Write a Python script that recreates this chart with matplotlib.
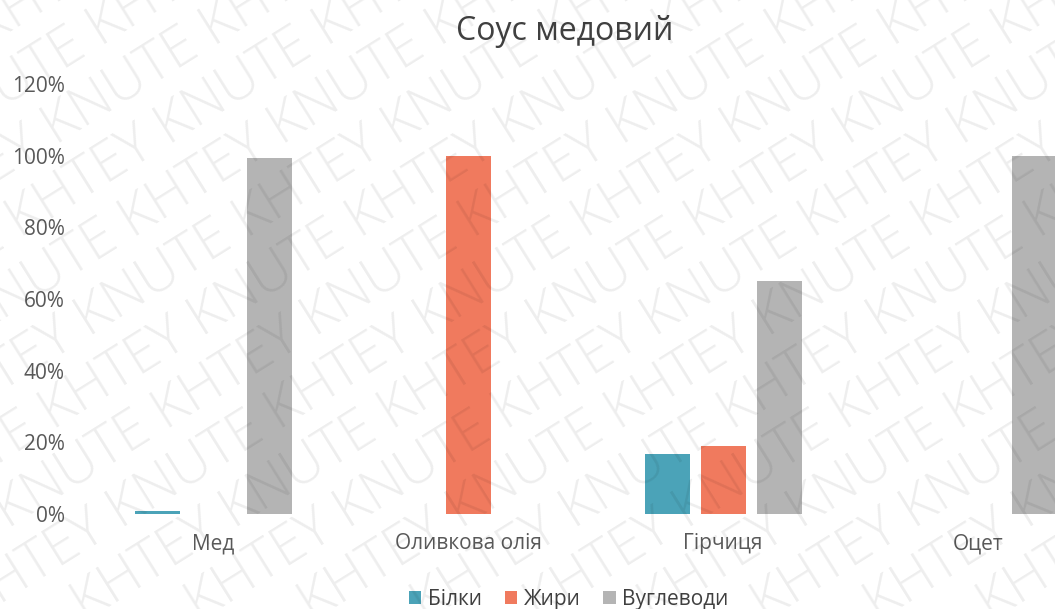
import numpy as np
import matplotlib
matplotlib.use("Agg")
from matplotlib import pyplot as plt
from matplotlib.ticker import PercentFormatter

# данные
categories = ["Мед", "Оливкова олія", "Гірчиця", "Оцет"]
series = ["Білки", "Жири", "Вуглеводи"]
bilky = [0.8, 0, 16.7, 0]
zhyry = [0, 100, 18.9, 0]
vuhlevody = [99.4, 0, 64.9, 100]
colors = ["#4BA3B8", "#F07A5E", "#B4B4B4"]
yticks = [0, 20, 40, 60, 80, 100, 120]

plt.rcParams['font.family'] = ['Open Sans', 'DejaVu Sans']

W, H = 1055, 609
fig = plt.figure(figsize=(W / 100, H / 100), dpi=100)

# область графика выходит за правый край (как в исходнике)
ax = fig.add_axes([85.5 / W, (H - 514) / H, 1020 / W, 430 / H])
x = np.arange(len(categories))
bw = 45 / 255
step = 56 / 255
for k, (vals, name) in enumerate(zip([bilky, zhyry, vuhlevody], series)):
  ax.bar(x + (k - 1) * step, vals, width=bw, color=colors[k], label=name)

ax.set_xlim(-0.5, 3.5)
ax.set_ylim(0, 120)
ax.set_yticks(yticks)
ax.yaxis.set_major_formatter(PercentFormatter(decimals=0))
ax.set_xticks(x)
ax.set_xticklabels(categories)
ax.tick_params(length=0, labelsize=15, colors="#595959")
ax.tick_params(axis="x", pad=14)
ax.tick_params(axis="y", pad=15)
for s in ax.spines.values():
  s.set_visible(False)

fig.text(0.535, 0.948, "Соус медовий", ha="center", va="center",
         fontsize=23, color="#404040")

handles, labels = ax.get_legend_handles_labels()
fig.legend(handles, labels, loc="center", bbox_to_anchor=(0.539, 0.016),
           ncol=3, frameon=False, fontsize=15, labelcolor="#404040",
           handlelength=0.6, handleheight=0.6, handletextpad=0.3,
           columnspacing=1.1)

# водяной знак
ang = 32
sp = 60 / np.sin(np.radians(ang))
for x0 in np.arange(-1500, W, sp):
  fig.text(x0 / W, -0.02, "KHTEY KNUTE " * 7, rotation=ang,
           rotation_mode="anchor", fontsize=40, fontweight="light",
           color="#000000", alpha=0.07, ha="left", va="baseline",
           zorder=10)

fig.savefig("out.png", dpi=100)
